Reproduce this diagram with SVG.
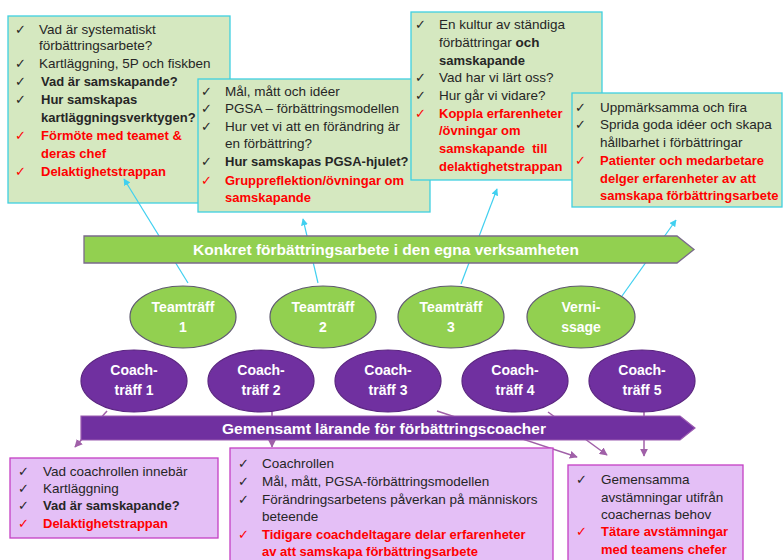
<svg xmlns="http://www.w3.org/2000/svg" width="783" height="560" viewBox="0 0 783 560">
<defs>
<style>
.gbox{fill:#d5e8c0;stroke:#3fd0e0;stroke-width:1.3}
.pbox{fill:#e4bff6;stroke:#c43fc4;stroke-width:1.3}
.t{font-family:"Liberation Sans",Arial,sans-serif;font-size:13.5px;fill:#262626}
.b{font-weight:bold;font-size:13px}
.r{font-weight:bold;font-size:13px;fill:#ff0000}
.ck{font-family:"DejaVu Sans",sans-serif;font-size:13px;fill:#262626}
.ckr{font-family:"DejaVu Sans",sans-serif;font-size:13px;fill:#ff0000}
.cy{stroke:#40d0f0;stroke-width:1.2;fill:none;marker-end:url(#ac)}
.pu{stroke:#a060a8;stroke-width:1.5;fill:none;marker-end:url(#ap)}
.ge{fill:#92d050;stroke:#5f5a6f;stroke-width:1.2}
.pe{fill:#7030a0;stroke:#5a2580;stroke-width:1.2}
.wt{font-family:"Liberation Sans",Arial,sans-serif;font-weight:bold;font-size:14px;fill:#ffffff;text-anchor:middle}
.bt{font-size:15.5px}
</style>
<marker id="ac" viewBox="0 0 10 10" refX="9" refY="5" markerWidth="7" markerHeight="7" orient="auto" markerUnits="userSpaceOnUse"><path d="M0,0 L10,5 L0,10 z" fill="#40d0f0"/></marker>
<marker id="ap" viewBox="0 0 10 10" refX="9" refY="5" markerWidth="8" markerHeight="8" orient="auto" markerUnits="userSpaceOnUse"><path d="M0,0 L10,5 L0,10 z" fill="#a060a8"/></marker>
</defs>
<rect width="783" height="560" fill="#ffffff"/>

<g id="box-g1">
<rect class="gbox" x="8" y="16" width="222" height="187"/>
<text class="ck" x="15" y="34">✓</text><text class="t" x="39" y="34">Vad är systematiskt</text>
<text class="t" x="39" y="50">förbättringsarbete?</text>
<text class="ck" x="15" y="68">✓</text><text class="t" x="39" y="68">Kartläggning, 5P och fiskben</text>
<text class="ck" x="15" y="86">✓</text><text class="t b" x="41" y="86">Vad är samskapande?</text>
<text class="ck" x="15" y="104">✓</text><text class="t b" x="41" y="104">Hur samskapas</text>
<text class="t b" x="41" y="122">kartläggningsverktygen?</text>
<text class="ckr" x="15" y="140">✓</text><text class="t r" x="41" y="140">Förmöte med teamet &amp;</text>
<text class="t r" x="41" y="158">deras chef</text>
<text class="ckr" x="15" y="176">✓</text><text class="t r" x="41" y="176">Delaktighetstrappan</text>
</g>

<g id="box-g2">
<rect class="gbox" x="198" y="79" width="232" height="133"/>
<text class="ck" x="201" y="96">✓</text><text class="t" x="225" y="96">Mål, mått och idéer</text>
<text class="ck" x="201" y="113">✓</text><text class="t" x="225" y="113">PGSA – förbättringsmodellen</text>
<text class="ck" x="201" y="131">✓</text><text class="t" x="225" y="131">Hur vet vi att en förändring är</text>
<text class="t" x="225" y="148">en förbättring?</text>
<text class="ck" x="201" y="166">✓</text><text class="t b" x="225" y="166">Hur samskapas PGSA-hjulet?</text>
<text class="ckr" x="201" y="185">✓</text><text class="t r" x="225" y="185">Gruppreflektion/övningar om</text>
<text class="t r" x="225" y="202">samskapande</text>
</g>

<g id="box-g3">
<rect class="gbox" x="411" y="12" width="191" height="168"/>
<text class="ck" x="415" y="29">✓</text><text class="t" x="439" y="29">En kultur av ständiga</text>
<text class="t" x="439" y="47">förbättringar <tspan font-weight="bold">och</tspan></text>
<text class="t b" x="439" y="65">samskapande</text>
<text class="ck" x="415" y="82">✓</text><text class="t" x="439" y="82">Vad har vi lärt oss?</text>
<text class="ck" x="415" y="100">✓</text><text class="t" x="439" y="100">Hur går vi vidare?</text>
<text class="ckr" x="415" y="118">✓</text><text class="t r" x="439" y="118">Koppla erfarenheter</text>
<text class="t r" x="439" y="135">/övningar om</text>
<text class="t r" x="439" y="153" xml:space="preserve">samskapande  till</text>
<text class="t r" x="439" y="171">delaktighetstrappan</text>
</g>

<g id="box-g4">
<rect class="gbox" x="572" y="93" width="210" height="114"/>
<text class="ck" x="575" y="112">✓</text><text class="t" x="600" y="112">Uppmärksamma och fira</text>
<text class="ck" x="575" y="129">✓</text><text class="t" x="600" y="129">Sprida goda idéer och skapa</text>
<text class="t" x="600" y="147">hållbarhet i förbättringar</text>
<text class="ckr" x="575" y="165">✓</text><text class="t r" x="600" y="165">Patienter och medarbetare</text>
<text class="t r" x="600" y="183">delger erfarenheter av att</text>
<text class="t r" x="600" y="200">samskapa förbättringsarbete</text>
</g>

<g id="connectors">
<line class="cy" x1="188" y1="283" x2="124" y2="179"/>
<line class="cy" x1="318" y1="283" x2="303" y2="219"/>
<line class="cy" x1="461" y1="284" x2="497" y2="189"/>
<line class="cy" x1="622" y1="296" x2="676" y2="220"/>
<line class="pu" x1="107" y1="411" x2="75" y2="447"/>
<line class="pu" x1="272" y1="412" x2="272" y2="447"/>
<line class="pu" x1="437" y1="411" x2="577" y2="457"/>
<line class="pu" x1="548" y1="412" x2="607" y2="455"/>
<line class="pu" x1="644" y1="412" x2="644" y2="456"/>
</g>

<g id="banner-konkret">
<polygon points="84,236 677,236 694,249.5 677,263 84,263" fill="#92d050" stroke="#7a6a8a" stroke-width="1.3"/>
<text class="wt bt" x="386" y="255">Konkret förbättringsarbete i den egna verksamheten</text>
</g>

<g id="banner-gemensamt">
<polygon points="81,416 680,416 695,428 680,440 81,440" fill="#7030a0" stroke="#9a5ab0" stroke-width="1.2"/>
<text class="wt bt" x="384" y="433.5">Gemensamt lärande för förbättringscoacher</text>
</g>

<g id="teamtraff-1"><ellipse class="ge" cx="183" cy="317" rx="53" ry="31"/><text class="wt" x="183" y="312">Teamträff</text><text class="wt" x="183" y="332">1</text></g>
<g id="teamtraff-2"><ellipse class="ge" cx="323" cy="317" rx="53" ry="31"/><text class="wt" x="323" y="312">Teamträff</text><text class="wt" x="323" y="332">2</text></g>
<g id="teamtraff-3"><ellipse class="ge" cx="451" cy="317" rx="53" ry="31"/><text class="wt" x="451" y="312">Teamträff</text><text class="wt" x="451" y="332">3</text></g>
<g id="vernissage"><ellipse class="ge" cx="581" cy="317" rx="54" ry="31"/><text class="wt" x="581" y="312">Verni-</text><text class="wt" x="581" y="332">ssage</text></g>

<g id="coachtraff-1"><ellipse class="pe" cx="134" cy="381" rx="53" ry="31"/><text class="wt" x="134" y="375">Coach-</text><text class="wt" x="134" y="395">träff 1</text></g>
<g id="coachtraff-2"><ellipse class="pe" cx="261" cy="381" rx="53" ry="31"/><text class="wt" x="261" y="375">Coach-</text><text class="wt" x="261" y="395">träff 2</text></g>
<g id="coachtraff-3"><ellipse class="pe" cx="388" cy="381" rx="53" ry="31"/><text class="wt" x="388" y="375">Coach-</text><text class="wt" x="388" y="395">träff 3</text></g>
<g id="coachtraff-4"><ellipse class="pe" cx="515" cy="381" rx="53" ry="31"/><text class="wt" x="515" y="375">Coach-</text><text class="wt" x="515" y="395">träff 4</text></g>
<g id="coachtraff-5"><ellipse class="pe" cx="642" cy="381" rx="53" ry="31"/><text class="wt" x="642" y="375">Coach-</text><text class="wt" x="642" y="395">träff 5</text></g>

<g id="box-p1">
<rect class="pbox" x="10" y="458" width="208" height="80"/>
<text class="ck" x="18" y="476">✓</text><text class="t" x="43" y="476">Vad coachrollen innebär</text>
<text class="ck" x="18" y="493">✓</text><text class="t" x="43" y="493">Kartläggning</text>
<text class="ck" x="18" y="510">✓</text><text class="t b" x="43" y="510">Vad är samskapande?</text>
<text class="ckr" x="18" y="528">✓</text><text class="t r" x="43" y="528">Delaktighetstrappan</text>
</g>

<g id="box-p2">
<rect class="pbox" x="230" y="448" width="323" height="120"/>
<text class="ck" x="238" y="468">✓</text><text class="t" x="262" y="468">Coachrollen</text>
<text class="ck" x="238" y="486">✓</text><text class="t" x="262" y="486">Mål, mått, PGSA-förbättringsmodellen</text>
<text class="ck" x="238" y="504">✓</text><text class="t" x="262" y="504">Förändringsarbetens påverkan på människors</text>
<text class="t" x="262" y="521">beteende</text>
<text class="ckr" x="238" y="539">✓</text><text class="t r" x="262" y="539">Tidigare coachdeltagare delar erfarenheter</text>
<text class="t r" x="262" y="556">av att samskapa förbättringsarbete</text>
</g>

<g id="box-p3">
<rect class="pbox" x="568" y="465" width="175" height="103"/>
<text class="ck" x="576" y="484">✓</text><text class="t" x="601" y="484">Gemensamma</text>
<text class="t" x="601" y="502">avstämningar utifrån</text>
<text class="t" x="601" y="519">coachernas behov</text>
<text class="ckr" x="576" y="536">✓</text><text class="t r" x="601" y="536">Tätare avstämningar</text>
<text class="t r" x="601" y="554">med teamens chefer</text>
</g>
</svg>
